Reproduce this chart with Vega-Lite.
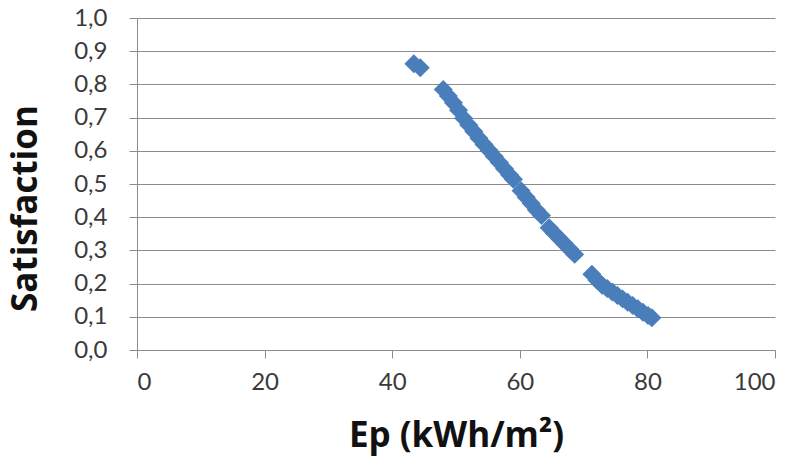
{
  "$schema": "https://vega.github.io/schema/vega-lite/v6.json",
  "autosize": "none",
  "width": 638,
  "height": 332,
  "padding": {"left": 137, "top": 18, "right": 25, "bottom": 116},
  "background": "white",
  "data": {
    "values": [
      {"ep": 43.4, "sat": 0.862},
      {"ep": 44.4, "sat": 0.850},
      {"ep": 48.0, "sat": 0.785},
      {"ep": 48.8, "sat": 0.765},
      {"ep": 49.6, "sat": 0.745},
      {"ep": 50.4, "sat": 0.722},
      {"ep": 51.2, "sat": 0.698},
      {"ep": 52.0, "sat": 0.678},
      {"ep": 52.8, "sat": 0.658},
      {"ep": 53.6, "sat": 0.638},
      {"ep": 54.4, "sat": 0.619},
      {"ep": 55.2, "sat": 0.601},
      {"ep": 56.0, "sat": 0.583},
      {"ep": 56.8, "sat": 0.565},
      {"ep": 57.6, "sat": 0.546},
      {"ep": 58.4, "sat": 0.527},
      {"ep": 59.0, "sat": 0.514},
      {"ep": 60.2, "sat": 0.480},
      {"ep": 61.0, "sat": 0.460},
      {"ep": 61.8, "sat": 0.441},
      {"ep": 62.6, "sat": 0.422},
      {"ep": 63.4, "sat": 0.405},
      {"ep": 64.6, "sat": 0.368},
      {"ep": 65.4, "sat": 0.352},
      {"ep": 66.2, "sat": 0.336},
      {"ep": 67.0, "sat": 0.320},
      {"ep": 67.8, "sat": 0.304},
      {"ep": 68.6, "sat": 0.288},
      {"ep": 71.3, "sat": 0.228},
      {"ep": 72.1, "sat": 0.210},
      {"ep": 72.9, "sat": 0.195},
      {"ep": 73.7, "sat": 0.185},
      {"ep": 74.5, "sat": 0.175},
      {"ep": 75.3, "sat": 0.164},
      {"ep": 76.1, "sat": 0.154},
      {"ep": 76.9, "sat": 0.144},
      {"ep": 77.7, "sat": 0.134},
      {"ep": 78.5, "sat": 0.124},
      {"ep": 79.3, "sat": 0.114},
      {"ep": 80.1, "sat": 0.104},
      {"ep": 80.7, "sat": 0.097}
    ]
  },
  "mark": {"type": "point", "shape": "diamond", "filled": true, "size": 360, "color": "#4a7ebb", "opacity": 1},
  "encoding": {
    "x": {
      "field": "ep", "type": "quantitative",
      "scale": {"domain": [0, 100], "nice": false, "zero": true},
      "axis": {
        "title": "Ep (kWh/m²)",
        "values": [0, 20, 40, 60, 80, 100],
        "grid": false,
        "tickSize": 8,
        "labelPadding": 12,
        "titlePadding": 24
      }
    },
    "y": {
      "field": "sat", "type": "quantitative",
      "scale": {"domain": [0, 1], "nice": false},
      "axis": {
        "title": "Satisfaction",
        "titleY": 190,
        "values": [0, 0.1, 0.2, 0.3, 0.4, 0.5, 0.6, 0.7, 0.8, 0.9, 1.0],
        "labelExpr": "replace(format(datum.value, '.1f'), '.', ',')",
        "grid": true,
        "tickSize": 8,
        "labelPadding": 22,
        "titlePadding": 30
      }
    }
  },
  "config": {
    "view": {"stroke": null},
    "axis": {
      "domainColor": "#8c8c8c",
      "tickColor": "#8c8c8c",
      "gridColor": "#8c8c8c",
      "gridWidth": 1,
      "labelFont": "Lato",
      "labelFontSize": 24,
      "labelColor": "#3a3a3a",
      "titleFont": "Open Sans",
      "titleFontSize": 35,
      "titleFontWeight": "bold",
      "titleColor": "#111111"
    }
  }
}
